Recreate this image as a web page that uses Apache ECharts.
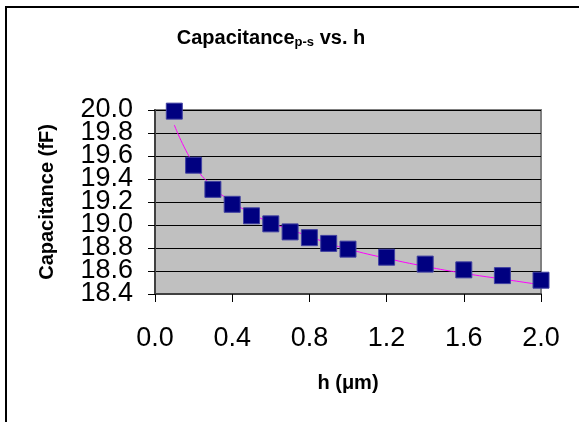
<!DOCTYPE html>
<html>
<head>
<meta charset="utf-8">
<script src="https://cdn.jsdelivr.net/npm/echarts@6/dist/echarts.min.js"></script>
<style>html,body{margin:0;padding:0;background:#fff;}#c{width:579px;height:422px;}</style>
</head>
<body>
<div id="c"></div>
<script>
// Data
var hValues = [0.1, 0.2, 0.3, 0.4, 0.5, 0.6, 0.7, 0.8, 0.9, 1.0, 1.2, 1.4, 1.6, 1.8, 2.0];
var capacitance = [19.99, 19.52, 19.31, 19.18, 19.08, 19.01, 18.94, 18.89, 18.84, 18.79, 18.72, 18.66, 18.61, 18.56, 18.52];
var trendline = [19.87, 19.53, 19.33, 19.20, 19.10, 19.02, 18.96, 18.90, 18.84, 18.79, 18.71, 18.64, 18.58, 18.53, 18.48];
var yTicks = ['18.4', '18.6', '18.8', '19.0', '19.2', '19.4', '19.6', '19.8', '20.0'];
var xTicks = ['0.0', '0.4', '0.8', '1.2', '1.6', '2.0'];

var chart = echarts.init(document.getElementById('c'), null, {renderer: 'canvas'});
var font = '"Liberation Sans", Arial, sans-serif';

function pairs(xs, ys) { return xs.map(function (x, i) { return [x, ys[i]]; }); }
function yLabel(parity) {
  return function (v) {
    var i = Math.round((v - 18.4) / 0.2);
    return (i % 2 === parity) ? yTicks[i] : '';
  };
}

var yLabelStyle = {fontFamily: font, fontSize: 27, color: '#000', margin: 22,
  showMinLabel: true, showMaxLabel: true, hideOverlap: false};

chart.setOption({
  animation: false,
  backgroundColor: '#ffffff',
  textStyle: {fontFamily: font},
  title: {
    text: '{a|Capacitance}{b|p-s}{a| vs. h}',
    left: 266, top: 22, textAlign: 'center',
    textStyle: {
      rich: {
        a: {fontFamily: font, fontSize: 20, fontWeight: 'bold', color: '#000', lineHeight: 22},
        b: {fontFamily: font, fontSize: 13, fontWeight: 'bold', color: '#000', lineHeight: 22, padding: [9, 0, 0, 0]}
      }
    }
  },
  graphic: [{
    type: 'rect', silent: true, z: 100,
    shape: {x: 6, y: 7, width: 800, height: 800},
    style: {fill: 'none', stroke: '#000', lineWidth: 2}
  }],
  grid: {
    left: 155, top: 110, right: 38, bottom: 128,
    show: true, backgroundColor: '#c0c0c0', borderColor: '#808080', borderWidth: 2
  },
  xAxis: {
    type: 'value', min: 0, max: 2, interval: 0.4,
    name: 'h (\u03bcm)', nameLocation: 'middle', nameGap: 79,
    nameTextStyle: {fontFamily: font, fontSize: 20, fontWeight: 'bold', color: '#000'},
    axisLine: {show: true, lineStyle: {color: '#404040', width: 2}},
    axisTick: {show: true, length: 8, lineStyle: {color: '#000', width: 1}},
    axisLabel: {fontFamily: font, fontSize: 27, color: '#000', margin: 31,
      showMinLabel: true, showMaxLabel: true, hideOverlap: false,
      formatter: function (v) { return xTicks[Math.round(v / 0.4)]; }},
    splitLine: {show: false}
  },
  yAxis: [{
    type: 'value', min: 18.4, max: 20.0, interval: 0.2, position: 'left',
    name: 'Capacitance (fF)', nameLocation: 'middle', nameGap: 98, nameRotate: 90,
    nameTextStyle: {fontFamily: font, fontSize: 20, fontWeight: 'bold', color: '#000'},
    axisLine: {show: true, lineStyle: {color: '#404040', width: 2}},
    axisTick: {show: true, length: 7, lineStyle: {color: '#000', width: 1}},
    axisLabel: Object.assign({formatter: yLabel(0)}, yLabelStyle),
    splitLine: {show: true, lineStyle: {color: '#000', width: 1}}
  }, {
    type: 'value', min: 18.4, max: 20.0, interval: 0.2, position: 'left', offset: 0,
    axisLine: {show: false}, axisTick: {show: false}, splitLine: {show: false},
    axisLabel: Object.assign({formatter: yLabel(1)}, yLabelStyle)
  }],
  series: [
    {
      type: 'line', data: pairs(hValues, trendline), smooth: true,
      showSymbol: false, symbol: 'none', z: 2,
      lineStyle: {color: '#ff00ff', width: 1}
    },
    {
      type: 'scatter', data: pairs(hValues, capacitance), clip: false,
      symbol: 'rect', symbolSize: 16, z: 3,
      itemStyle: {color: '#000080', borderColor: '#4040a0', borderWidth: 1, opacity: 1}
    }
  ]
});
</script>
</body>
</html>
